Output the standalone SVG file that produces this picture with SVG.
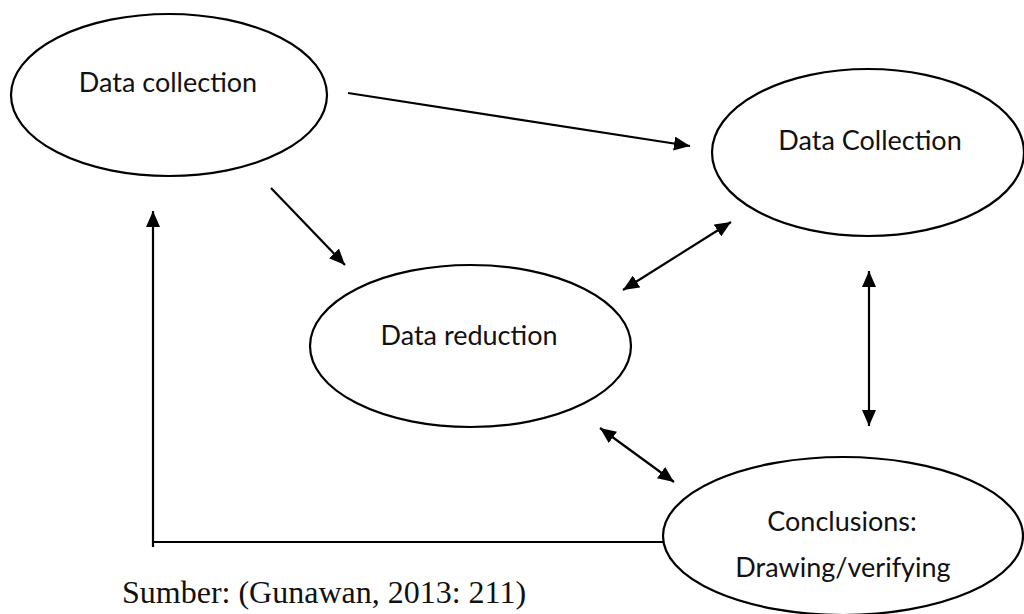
<svg xmlns="http://www.w3.org/2000/svg" width="1024" height="614" viewBox="0 0 1024 614">
  <style>
    .node ellipse { fill: #fff; stroke: #000; stroke-width: 2.2; }
    .label { font-family: Lato, "Open Sans", sans-serif; font-size: 27px; fill: #111; text-anchor: middle; }
    .conn line, .conn path { stroke: #000; stroke-width: 2.2; fill: none; }
    .src { font-family: "Liberation Serif", "Times New Roman", serif; font-size: 32px; fill: #111; }
  </style>
  <defs>
    <marker id="ah" viewBox="0 0 16 14" refX="16" refY="7" markerWidth="16" markerHeight="14" markerUnits="userSpaceOnUse" orient="auto-start-reverse">
      <path d="M0,0 L16,7 L0,14 z" fill="#000"/>
    </marker>
  </defs>
  <rect width="1024" height="614" fill="#fff"/>

  <g class="conn" id="connectors">
    <line x1="348" y1="93" x2="690" y2="146" marker-end="url(#ah)"/>
    <line x1="271" y1="188" x2="345" y2="265" marker-end="url(#ah)"/>
    <line x1="623" y1="290" x2="731" y2="222" marker-start="url(#ah)" marker-end="url(#ah)"/>
    <line x1="869" y1="271" x2="869" y2="426" marker-start="url(#ah)" marker-end="url(#ah)"/>
    <line x1="600" y1="428" x2="674" y2="482" marker-start="url(#ah)" marker-end="url(#ah)"/>
    <path d="M153,542 H666"/>
    <line x1="153" y1="547" x2="153" y2="211" marker-end="url(#ah)"/>
  </g>

  <g class="node" id="data-collection-1">
    <ellipse cx="169" cy="95" rx="158" ry="81"/>
    <text class="label" x="168" y="92">Data collection</text>
  </g>
  <g class="node" id="data-collection-2">
    <ellipse cx="868" cy="152.5" rx="156" ry="83.5"/>
    <text class="label" x="870" y="150">Data Collection</text>
  </g>
  <g class="node" id="data-reduction">
    <ellipse cx="470.5" cy="346" rx="160.5" ry="81"/>
    <text class="label" x="469" y="345">Data reduction</text>
  </g>
  <g class="node" id="conclusions">
    <ellipse cx="843" cy="536" rx="180" ry="79"/>
    <text class="label" x="842" y="531">Conclusions:</text>
    <text class="label" x="843" y="577">Drawing/verifying</text>
  </g>

  <text class="src" x="122" y="603">Sumber: (Gunawan, 2013: 211)</text>
</svg>
